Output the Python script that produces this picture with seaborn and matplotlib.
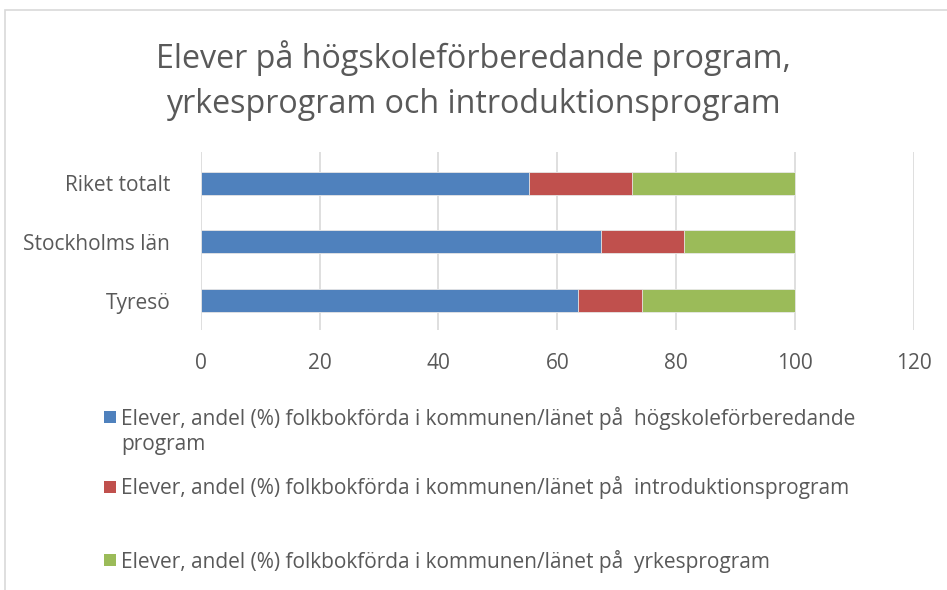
import matplotlib
matplotlib.use("Agg")
import matplotlib.pyplot as plt
import seaborn as sns
import pandas as pd
from matplotlib.patches import Rectangle

# data
regions = ["Riket totalt", "Stockholms län", "Tyresö"]
hogskole = [55.2, 67.4, 63.5]
intro = [17.4, 13.9, 10.8]
yrkes = [27.4, 18.7, 25.7]

series_labels = [
    "Elever, andel (%) folkbokförda i kommunen/länet på  högskoleförberedande",
    "Elever, andel (%) folkbokförda i kommunen/länet på  introduktionsprogram",
    "Elever, andel (%) folkbokförda i kommunen/länet på  yrkesprogram",
]
wrap_rest = "program"  # second line of the first legend label
colors = ["#4F81BD", "#C0504D", "#9BBB59"]
xticks = [0, 20, 40, 60, 80, 100, 120]

df = pd.DataFrame({"region": regions, "hog": hogskole, "intro": intro, "yrk": yrkes})
df["c1"] = df["hog"]
df["c2"] = df["hog"] + df["intro"]
df["c3"] = df["c2"] + df["yrk"]

sns.set_style("white")
plt.rcParams["font.family"] = ["Open Sans", "DejaVu Sans"]
txt = "#595959"

fig = plt.figure(figsize=(9.47, 5.90), dpi=100)
ax = fig.add_axes([0.212, 0.441, 0.753, 0.301])

# stacked bars: draw cumulative totals back to front
for col, c in zip(["c3", "c2", "c1"], [colors[2], colors[1], colors[0]]):
    sns.barplot(data=df, x=col, y="region", order=regions, color=c, width=0.39,
                saturation=1, edgecolor="#E8E8E8", linewidth=0.6, ax=ax, zorder=3)

ax.set_xlim(0, 120)
ax.set_ylim(2.5, -0.53)
ax.set_xticks(xticks)
ax.set_xlabel("")
ax.set_ylabel("")
ax.grid(axis="x", color="#D9D9D9", linewidth=1.2, zorder=0)
ax.set_axisbelow(True)
for s in ax.spines.values():
    s.set_visible(False)
ax.tick_params(axis="both", length=0, labelsize=15, labelcolor=txt)
ax.tick_params(axis="x", pad=17)
ax.tick_params(axis="y", pad=22)

fig.suptitle("Elever på högskoleförberedande program,\nyrkesprogram och introduktionsprogram",
             y=0.932, fontsize=23.2, color=txt, linespacing=1.5)

# legend, one entry per row like the original
ypos = [0.2915, 0.173, 0.049]
legs = []
for lab, c, y in zip(series_labels, colors, ypos):
    h = Rectangle((0, 0), 1, 1, facecolor=c, edgecolor="none")
    leg = fig.legend([h], [lab], loc="center left", bbox_to_anchor=(0.11, y),
                     frameon=False, fontsize=15, labelcolor=txt, handlelength=0.55, handleheight=0.55,
                     handletextpad=0.25, borderaxespad=0, borderpad=0, labelspacing=0)
    legs.append(leg)

# wrapped remainder of the first label, aligned with its text
fig.canvas.draw()
bb = legs[0].get_texts()[0].get_window_extent().transformed(fig.transFigure.inverted())
fig.text(bb.x0, 0.246, wrap_rest, fontsize=15, color=txt, va="center", ha="left")

# thin chart-area border
fig.patches.append(Rectangle((0.005, -0.1), 1.2, 1.083, transform=fig.transFigure,
                             facecolor="none", edgecolor="#D9D9D9", linewidth=1.2))

fig.savefig("out.png", dpi=100)
